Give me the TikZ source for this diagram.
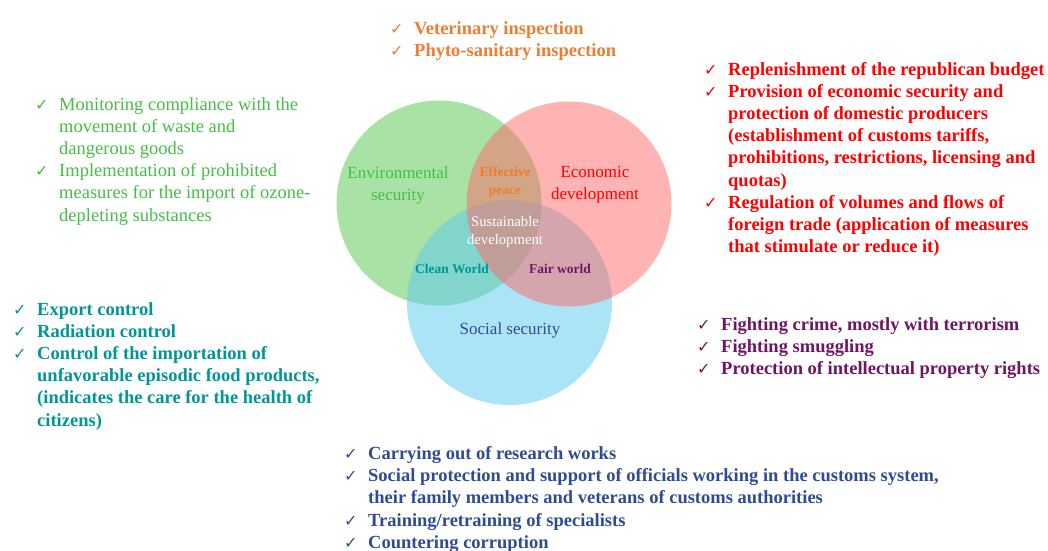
\documentclass[tikz,border=0pt]{standalone}
\usepackage{fontspec}
\setmainfont{Liberation Serif}
\newfontfamily\chkfont{DejaVu Sans}
\definecolor{envgreen}{RGB}{83,197,75}
\definecolor{ecored}{RGB}{255,103,103}
\definecolor{socblue}{RGB}{89,201,239}
\definecolor{txtgreen}{RGB}{70,190,70}
\definecolor{txtorange}{RGB}{237,125,49}
\definecolor{txtred}{RGB}{255,0,0}
\definecolor{txtteal}{RGB}{0,150,150}
\definecolor{txtpurple}{RGB}{112,20,100}
\definecolor{txtblue}{RGB}{47,75,145}
\newcommand{\chk}{\makebox[24pt][l]{\chkfont\fontsize{16}{16}\selectfont\char"2713}}

\begin{document}
\begin{tikzpicture}[x=1pt, y=-1pt,
    venn/.style={circle, minimum size=205pt, inner sep=0pt, fill opacity=0.5},
    vennlabel/.style={align=center, inner sep=0pt, font=\fontsize{17}{22}\selectfont},
    overlap/.style={align=center, inner sep=0pt, font=\fontsize{13.5}{17.5}\selectfont\bfseries},
    listnode/.style={anchor=base west, inner sep=0pt, font=\fontsize{18.5}{22.2}\selectfont\bfseries}]
    \useasboundingbox (0,0) rectangle (1048,550);

    \node[venn, fill=envgreen] (env) at (439,203) {};
    \node[venn, fill=socblue] (soc) at (509.5,302.5) {};
    \node[venn, fill=ecored] (eco) at (569,204) {};

    \node[vennlabel, text=txtgreen] (envlab) at (398,185) {Environmental\\security};
    \node[vennlabel, text=txtred] (ecolab) at (595,185) {Economic\\development};
    \node[vennlabel, text=txtblue] (soclab) at (510,330) {Social security};
    \node[overlap, text=txtorange] (peace) at (505,182) {Effective\\peace};
    \node[vennlabel, text=white, font=\fontsize{14.7}{17.5}\selectfont] (sust) at (505,232) {Sustainable\\development};
    \node[overlap, text=txtteal] (clean) at (452,269) {Clean World};
    \node[overlap, text=txtpurple] (fair) at (560,269) {Fair world};

    \node[listnode, text=txtorange] (inspect) at (390,34.5) {\begin{tabular}[t]{@{}l@{}l@{}}
        \chk & Veterinary inspection\\
        \chk & Phyto-sanitary inspection
    \end{tabular}};

    \node[listnode, text=txtgreen, font=\fontsize{18.5}{22.2}\selectfont] (waste) at (35,110) {\begin{tabular}[t]{@{}l@{}l@{}}
        \chk & Monitoring compliance with the\\
             & movement of waste and\\
             & dangerous goods\\
        \chk & Implementation of prohibited\\
             & measures for the import of ozone-\\
             & depleting substances
    \end{tabular}};

    \node[listnode, text=txtred] (budget) at (704,75) {\begin{tabular}[t]{@{}l@{}l@{}}
        \chk & Replenishment of the republican budget\\
        \chk & Provision of economic security and\\
             & protection of domestic producers\\
             & (establishment of customs tariffs,\\
             & prohibitions, restrictions, licensing and\\
             & quotas)\\
        \chk & Regulation of volumes and flows of\\
             & foreign trade (application of measures\\
             & that stimulate or reduce it)
    \end{tabular}};

    \node[listnode, text=txtteal] (export) at (13,315) {\begin{tabular}[t]{@{}l@{}l@{}}
        \chk & Export control\\
        \chk & Radiation control\\
        \chk & Control of the importation of\\
             & unfavorable episodic food products,\\
             & (indicates the care for the health of\\
             & citizens)
    \end{tabular}};

    \node[listnode, text=txtpurple] (crime) at (697,330) {\begin{tabular}[t]{@{}l@{}l@{}}
        \chk & Fighting crime, mostly with terrorism\\
        \chk & Fighting smuggling\\
        \chk & Protection of intellectual property rights
    \end{tabular}};

    \node[listnode, text=txtblue] (research) at (344,459.5) {\begin{tabular}[t]{@{}l@{}l@{}}
        \chk & Carrying out of research works\\
        \chk & Social protection and support of officials working in the customs system,\\
             & their family members and veterans of customs authorities\\
        \chk & Training/retraining of specialists\\
        \chk & Countering corruption
    \end{tabular}};
\end{tikzpicture}
\end{document}
